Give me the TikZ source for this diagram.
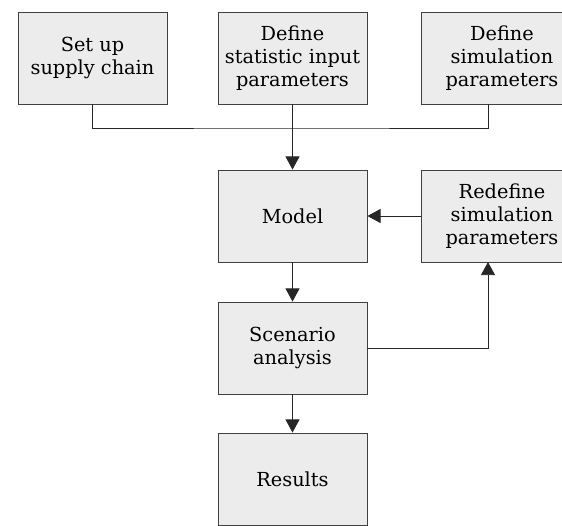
\documentclass[tikz,border=0pt]{standalone}
\usepackage{fontspec}
\setmainfont{DejaVu Serif}
\usetikzlibrary{arrows.meta}
\begin{document}
\begin{tikzpicture}[x=0.02cm,y=-0.02cm,
  stage/.style={draw=black!75, fill=gray!15, line width=0.5pt,
    minimum width=2.98cm, minimum height=1.84cm, inner sep=0pt,
    align=center, font=\fontsize{11}{13}\selectfont},
  widestage/.style={stage, minimum width=3.24cm},
  flow/.style={draw=black!85, line width=0.5pt},
  tip/.style={flow, -{Triangle[width=8pt,length=7.5pt]}}]
\useasboundingbox (0,0) rectangle (562,525);
\clip (0,0) rectangle (562,525);
% top row
\node[stage] (setup) at (92.5,58) {Set up\\supply chain};
\node[stage] (stat) at (292.5,58) {Define\\statistic input\\parameters};
\node[widestage] (sim) at (502,58) {Define\\simulation\\parameters};
% middle and bottom
\node[stage] (model) at (292.5,216) {Model};
\node[widestage] (redef) at (502,216) {Redefine\\simulation\\parameters};
\node[stage] (scen) at (292.5,348) {Scenario\\analysis};
\node[stage] (res) at (292.5,479) {Results};
\coordinate (join) at (292.5,128);
\coordinate (simfoot) at (488,104);
\coordinate (redfoot) at (488,262);
\draw[flow] (setup.south) |- (join) -| (simfoot);
\draw[tip] (stat.south) -- (model.north);
\draw[tip] (redef.west) -- (model.east);
\draw[tip] (model.south) -- (scen.north);
\draw[tip] (scen.east) -| (redfoot);
\draw[tip] (scen.south) -- (res.north);
\end{tikzpicture}
\end{document}
